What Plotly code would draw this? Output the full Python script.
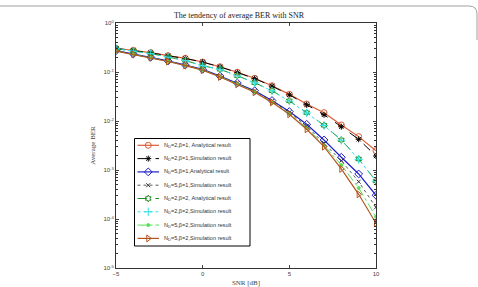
import plotly.graph_objects as go

snr = list(range(-5, 11))

ber_n2_b1_ana = [0.305, 0.277, 0.248, 0.215, 0.19, 0.16, 0.128, 0.0986, 0.0744, 0.0525, 0.035, 0.0222, 0.0148, 0.0083, 0.0048, 0.00248]
ber_n2_b1_sim = [0.303, 0.276, 0.247, 0.214, 0.189, 0.159, 0.127, 0.0975, 0.0735, 0.0515, 0.0342, 0.0215, 0.0134, 0.00765, 0.00423, 0.00193]
ber_n5_b1_ana = [0.272, 0.233, 0.2, 0.168, 0.139, 0.1135, 0.0828, 0.0597, 0.0415, 0.0262, 0.0156, 0.00857, 0.0041, 0.00182, 0.00083, 0.000305]
ber_n5_b1_sim = [0.27, 0.232, 0.199, 0.167, 0.138, 0.112, 0.082, 0.059, 0.041, 0.0258, 0.015, 0.0079, 0.00356, 0.00155, 0.000577, 0.000173]
ber_n2_b2_ana = [0.30, 0.27, 0.238, 0.202, 0.172, 0.134, 0.1135, 0.084, 0.0605, 0.0415, 0.0258, 0.0148, 0.00817, 0.0041, 0.00168, 0.000597]
ber_n2_b2_sim = [0.299, 0.269, 0.237, 0.201, 0.171, 0.133, 0.113, 0.0835, 0.06, 0.041, 0.0255, 0.0146, 0.0081, 0.00405, 0.00165, 0.00059]
ber_n5_b2_sim1 = [0.268, 0.23, 0.197, 0.165, 0.136, 0.11, 0.08, 0.057, 0.039, 0.0245, 0.014, 0.0072, 0.0032, 0.00126, 0.00043, 0.000111]
ber_n5_b2_sim2 = [0.267, 0.229, 0.196, 0.164, 0.135, 0.109, 0.079, 0.056, 0.0385, 0.024, 0.0137, 0.00677, 0.00299, 0.00105, 0.000319, 0.0000817]

names = [
    "N<sub>D</sub>=2,β=1, Analytical result",
    "N<sub>D</sub>=2,β=1,Simulation result",
    "N<sub>D</sub>=5,β=1,Analytical result",
    "N<sub>D</sub>=5,β=1,Simulation result",
    "N<sub>D</sub>=2,β=2, Analytical result",
    "N<sub>D</sub>=2,β=2,Simulation result",
    "N<sub>D</sub>=5,β=2,Simulation result",
    "N<sub>D</sub>=5,β=2,Simulation result",
]
series = [ber_n2_b1_ana, ber_n2_b1_sim, ber_n5_b1_ana, ber_n5_b1_sim,
          ber_n2_b2_ana, ber_n2_b2_sim, ber_n5_b2_sim1, ber_n5_b2_sim2]
colors = ["#DD5A35", "#000000", "#1F1FCC", "#333333", "#1E8C1E", "#33E0E0", "#55E055", "#B3561E"]
dashes = ["solid", "dash", "solid", "dot", "dash", "dot", "dashdot", "solid"]
symbols = ["circle-open", "asterisk-open", "diamond-open", "x-thin-open", "hexagram-open", "cross-thin-open", "circle", "triangle-right-open"]
msizes = [6, 5, 6, 4, 5, 6, 3, 6]
lwidths = [1.2, 1, 1.2, 0.8, 1, 1, 1, 1.2]

W, H = 478, 287
L, R, T, B = 116, 376, 23, 268

# legend layout (pixel positions in the figure)
LEG_X0, LEG_X1, LEG_Y0, LEG_Y1 = 134.5, 250, 138.5, 246
LEG_ROW0, LEG_DY = 145.3, 13.3
LEG_LINE = (137.5, 159)
LEG_TEXT_X = 162

fig = go.Figure()
for nm, ys, c, d, s, ms, lw in zip(names, series, colors, dashes, symbols, msizes, lwidths):
    fig.add_trace(go.Scatter(
        x=snr, y=ys, name=nm, mode="lines+markers", showlegend=False,
        line=dict(color=c, width=lw, dash=d),
        marker=dict(symbol=s, size=ms, color=c, line=dict(color=c, width=1)),
    ))

# hand-drawn legend on an overlay axis measured in figure pixels
fig.add_shape(type="rect", xref="x2", yref="y2", x0=LEG_X0, x1=LEG_X1, y0=LEG_Y0, y1=LEG_Y1,
              line=dict(color="black", width=1), fillcolor="white", layer="below")
for i, (nm, c, d, s, ms, lw) in enumerate(zip(names, colors, dashes, symbols, msizes, lwidths)):
    yy = LEG_ROW0 + LEG_DY * i
    fig.add_trace(go.Scatter(
        x=[LEG_LINE[0], (LEG_LINE[0] + LEG_LINE[1]) / 2, LEG_LINE[1]], y=[yy, yy, yy],
        xaxis="x2", yaxis="y2", mode="lines", showlegend=False, hoverinfo="skip",
        line=dict(color=c, width=lw, dash=d)))
    fig.add_trace(go.Scatter(
        x=[(LEG_LINE[0] + LEG_LINE[1]) / 2], y=[yy],
        xaxis="x2", yaxis="y2", mode="markers", showlegend=False, hoverinfo="skip",
        marker=dict(symbol=s, size=ms, color=c, line=dict(color=c, width=1))))
    fig.add_annotation(x=LEG_TEXT_X, y=yy, xref="x2", yref="y2", text=nm, showarrow=False,
                       xanchor="left", yanchor="middle",
                       font=dict(family="Liberation Sans, Arial", size=5.6, color="#333"))

def px(x):
    return (x - L) / (R - L)

def py(y):
    return (B - y) / (B - T)

# figure frame (top edge with rounded corner)
path = (f"M {px(0)},{py(6)} L {px(469)},{py(6)} "
        f"Q {px(477)},{py(6)} {px(477)},{py(14)} L {px(477)},{py(40)}")
fig.add_shape(type="path", path=path, xref="paper", yref="paper",
              line=dict(color="#A0A0A0", width=1))

ytick_vals = [1, 1e-1, 1e-2, 1e-3, 1e-4, 1e-5]
ytick_text = ["10<sup>0</sup>", "10<sup>-1</sup>", "10<sup>-2</sup>", "10<sup>-3</sup>", "10<sup>-4</sup>", "10<sup>-5</sup>"]
minor_vals = [m * 10 ** e for e in range(-5, 0) for m in range(2, 10)]

axis_font = dict(family="Liberation Sans, Arial", size=6, color="#444")

fig.update_layout(
    width=W, height=H,
    margin=dict(l=L, r=W - R, t=T, b=H - B, autoexpand=False),
    paper_bgcolor="white", plot_bgcolor="white",
    showlegend=False,
    title=dict(text="The tendency of average BER with SNR", x=px(246), xanchor="center",
               y=1 - 15 / H, yanchor="middle",
               font=dict(family="Liberation Serif, Times New Roman", size=8, color="#222")),
    xaxis=dict(range=[-5, 10], tickvals=[-5, 0, 5, 10], ticks="inside", ticklen=3,
               showgrid=False, zeroline=False, showline=True, linecolor="#333", linewidth=1,
               mirror="allticks", tickfont=axis_font,
               title=dict(text="SNR [dB]", standoff=3,
                          font=dict(family="Liberation Serif, Times New Roman", size=7, color="#444"))),
    yaxis=dict(type="log", range=[-5, 0], tickvals=ytick_vals, ticktext=ytick_text,
               ticks="inside", ticklen=3, showgrid=False, zeroline=False, showline=True,
               linecolor="#333", linewidth=1, mirror="allticks", tickfont=axis_font,
               minor=dict(tickvals=minor_vals, ticks="inside", ticklen=2, tickcolor="#333", showgrid=False),
               title=dict(text="Average BER", standoff=6,
                          font=dict(family="Liberation Serif, Times New Roman", size=7, color="#444"))),
    xaxis2=dict(overlaying="x", range=[L, R], visible=False, fixedrange=True),
    yaxis2=dict(overlaying="y", range=[B, T], visible=False, fixedrange=True),
)

fig.write_html("out.html")
